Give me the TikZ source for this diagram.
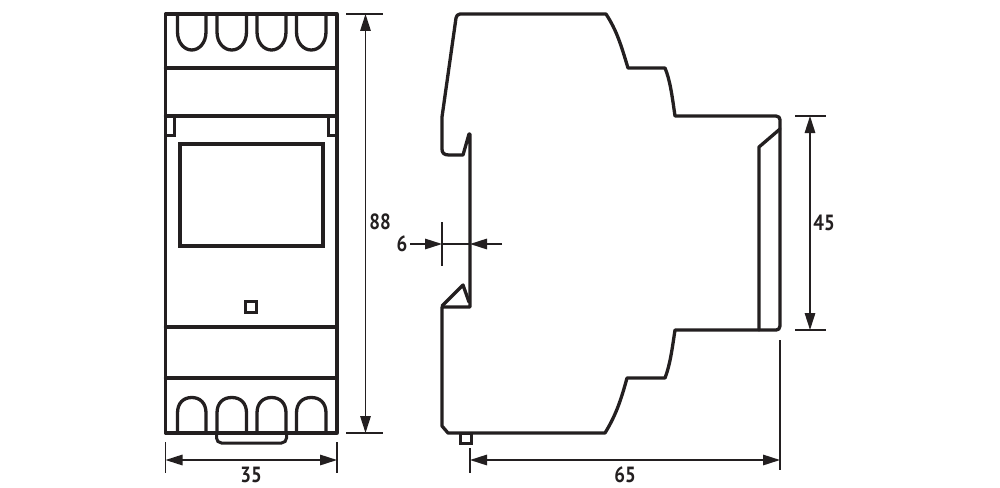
\documentclass[tikz,border=0pt]{standalone}
\usepackage{fontspec}
\setmainfont{PT Sans}
\usetikzlibrary{arrows.meta}
\definecolor{ink}{HTML}{231F20}
\tikzset{
  body/.style={draw=ink,line width=3.3pt,line join=round,line cap=round},
  thin part/.style={draw=ink,line width=3pt},
  dim/.style={draw=ink,line width=1.5pt},
  dimarrow/.style={dim,{Triangle[length=17pt,width=10.5pt]}-{Triangle[length=17pt,width=10.5pt]}},
  onearrow/.style={dim,-{Triangle[length=17pt,width=10.5pt]}},
  dimtext/.style={text=ink,font=\fontsize{22}{22}\selectfont\bfseries,inner sep=0pt,xscale=0.86,transform shape},
}
\begin{document}
\begin{tikzpicture}[x=1pt,y=-1pt]
\useasboundingbox (0,0) rectangle (1000,487);
\fill[white] (0,0) rectangle (1000,487);
% ---------- front view
\draw[body,line cap=butt] (165.5,14) rectangle (337,433);
\draw[body] (165.5,68) -- (337,68);
\draw[body] (165.5,116) -- (337,116);
\draw[body] (165.5,327) -- (337,327);
\draw[body] (165.5,378) -- (337,378);
\draw[thin part] (174,116) -- (174,135) -- (165.5,135);
\draw[thin part] (328,116) -- (328,135) -- (337,135);
\draw[body,line join=miter] (180,144) rectangle (323,246);
\draw[thin part] (245.5,301.5) rectangle (256.5,312.5);
% terminals, top
\foreach \a/\b in {177.5/206,217/246.5,257/286,296.5/326}{
  \draw[body,line cap=butt] (\a,14) -- (\a,32) .. controls (\a,43) and ({\a+7},50) .. ({(\a+\b)/2},50)
     .. controls ({\b-7},50) and (\b,43) .. (\b,32) -- (\b,14);
}
% terminals, bottom
\foreach \a/\b in {177.5/206,217/246.5,257/286,296.5/326}{
  \draw[body,line cap=butt] (\a,433) -- (\a,413) .. controls (\a,403) and ({\a+6},397.5) .. ({(\a+\b)/2},397.5)
     .. controls ({\b-6},397.5) and (\b,403) .. (\b,413) -- (\b,433);
}
\draw[thin part,rounded corners=5pt] (216.5,433) -- (216.5,443) -- (286.5,443) -- (286.5,433);
% front view dimensions
\coordinate (w1t) at (165.5,442); \coordinate (w1b) at (165.5,473);
\coordinate (w2t) at (337,442);   \coordinate (w2b) at (337,473);
\coordinate (wa) at (165.5,460);  \coordinate (wb) at (337,460);
\draw[dim] (w1t) -- (w1b);
\draw[dim] (w2t) -- (w2b);
\draw[dimarrow] (wa) -- (wb);
\node[dimtext] (t35) at (251,474.5) {35};
\coordinate (h1l) at (346,14);  \coordinate (h1r) at (383,14);
\coordinate (h2l) at (346,433); \coordinate (h2r) at (383,433);
\coordinate (ha) at (365.5,14); \coordinate (hb) at (365.5,433);
\draw[dim] (h1l) -- (h1r);
\draw[dim] (h2l) -- (h2r);
\draw[dimarrow] (ha) -- (hb);
\node[dimtext] (t88) at (380,222) {88};
% ---------- side view
\draw[body] (460,14) -- (606,14)
  .. controls (617,31) and (621,45) .. (628,68)
  -- (665,68)
  .. controls (670,80) and (672,95) .. (675,116)
  -- (776,116) .. controls (779,116) and (780,118) .. (780,120)
  -- (780,326) .. controls (780,329) and (778,330) .. (776,330)
  -- (675,330)
  .. controls (672,350) and (670,365) .. (665,378)
  -- (627,378)
  .. controls (621,400) and (616,415) .. (605,433)
  -- (448,433) -- (442,426) -- (442,307)
  -- (470,307) -- (470,134) -- (469,134) -- (463,155)
  -- (449,155) .. controls (444,155) and (442,153) .. (442,149)
  -- (442,117) -- (456,18) .. controls (456,16) and (458,14) .. (460,14) -- cycle;
\draw[body] (442,306) -- (463,285) -- (469,302);
\draw[body] (759,330) -- (759,147) -- (780,129);
\draw[thin part] (460,433) rectangle (471,443.5);
% side view dimensions
\coordinate (s1) at (442,222); \coordinate (s2) at (442,266);
\coordinate (s3) at (410,244); \coordinate (s4) at (442,244);
\coordinate (s5) at (502,244); \coordinate (s6) at (470,244);
\draw[dim] (s1) -- (s2);
\draw[onearrow] (s3) -- (s4);
\draw[onearrow] (s5) -- (s6);
\draw[dim] (s4) -- (s6);
\node[dimtext] (t6) at (402,244) {6};
\coordinate (d1t) at (470,448); \coordinate (d1b) at (470,473);
\coordinate (d2t) at (780,340); \coordinate (d2b) at (780,470);
\coordinate (da) at (470,460);  \coordinate (db) at (780,460);
\draw[dim] (d1t) -- (d1b);
\draw[dim] (d2t) -- (d2b);
\draw[dimarrow] (da) -- (db);
\node[dimtext] (t65) at (625,475) {65};
\coordinate (e1l) at (795,116); \coordinate (e1r) at (826,116);
\coordinate (e2l) at (795,330); \coordinate (e2r) at (826,330);
\coordinate (ea) at (810,116);  \coordinate (eb) at (810,330);
\draw[dim] (e1l) -- (e1r);
\draw[dim] (e2l) -- (e2r);
\draw[dimarrow] (ea) -- (eb);
\node[dimtext] (t45) at (824,223) {45};
\end{tikzpicture}
\end{document}
